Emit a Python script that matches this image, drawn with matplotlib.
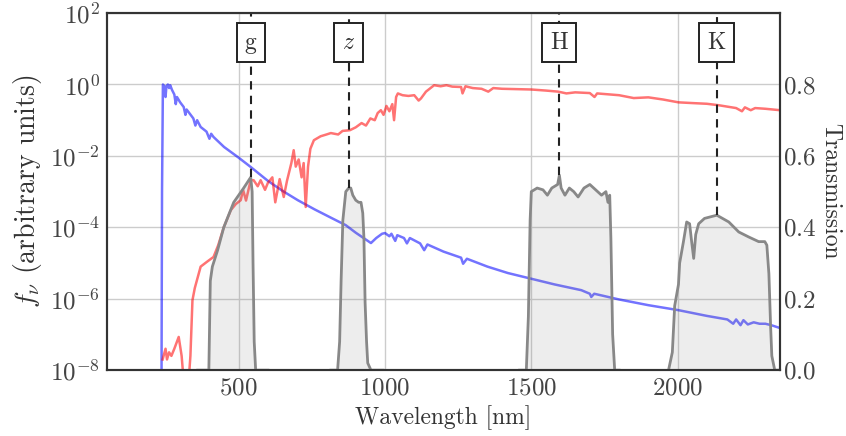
import numpy as np
import matplotlib
matplotlib.use("Agg")
import matplotlib.pyplot as plt

plt.rcParams.update({
    "font.family": "serif",
    "font.serif": ["cmr10"],
    "mathtext.fontset": "cm",
    "axes.formatter.use_mathtext": True,
})

# hot star spectrum (wavelength nm, log10 f_nu)
hot_wl = [236, 238, 241, 246, 250, 253, 258, 262, 266, 272, 280, 285, 289, 300,
          312, 318, 322, 345, 352, 358, 370, 390, 400, 406, 414, 450, 500, 541,
          600, 650, 702, 760, 820, 866, 900, 952, 970, 990, 1000, 1015, 1022,
          1035, 1042, 1065, 1075, 1085, 1120, 1134, 1145, 1200, 1260, 1267, 1280,
          1350, 1420, 1490, 1580, 1671, 1700, 1705, 1715, 1800, 1900, 2003, 2100,
          2170, 2190, 2200, 2215, 2225, 2240, 2260, 2280, 2300, 2320, 2350]
hot_logf = [-9.0, -3.0, 0.0, -0.05, -0.35, -0.05, 0.0, -0.1, -0.02, -0.15, -0.28,
            -0.55, -0.35, -0.5, -0.63, -0.85, -0.7, -0.95, -1.15, -1.0, -1.19,
            -1.32, -1.52, -1.38, -1.47, -1.75, -2.05, -2.31, -2.7, -2.98, -3.24,
            -3.5, -3.75, -3.94, -4.15, -4.44, -4.3, -4.18, -4.16, -4.25, -4.18,
            -4.38, -4.22, -4.3, -4.45, -4.3, -4.45, -4.64, -4.48, -4.68, -4.85,
            -5.02, -4.88, -5.1, -5.28, -5.42, -5.6, -5.76, -5.86, -5.95, -5.86,
            -6.02, -6.18, -6.32, -6.48, -6.58, -6.7, -6.58, -6.74, -6.6, -6.72,
            -6.66, -6.7, -6.7, -6.74, -6.82]

# cool star spectrum
cool_wl = [240, 250, 255, 262, 270, 280, 295, 305, 312, 329, 335, 342, 350, 370,
           394, 414, 430, 449, 473, 490, 507, 515, 525, 541, 551, 565, 575, 590,
           600, 615, 625, 640, 654, 665, 680, 688, 695, 705, 715, 722, 729, 737,
           745, 757, 780, 800, 815, 840, 855, 880, 900, 920, 935, 950, 965, 975,
           986, 995, 1005, 1015, 1025, 1031, 1038, 1044, 1060, 1080, 1100, 1115,
           1123, 1140, 1168, 1190, 1210, 1230, 1260, 1265, 1275, 1300, 1330, 1353,
           1370, 1400, 1450, 1500, 1550, 1592, 1620, 1650, 1700, 1716, 1725, 1800,
           1850, 1900, 1950, 2003, 2050, 2100, 2140, 2200, 2220, 2230, 2250, 2265,
           2300, 2350]
cool_logf = [-7.7, -7.4, -7.7, -7.5, -7.6, -7.4, -7.07, -7.6, -8.3, -8.3, -7.6,
             -6.04, -5.7, -5.1, -4.95, -4.83, -4.5, -4.0, -3.52, -3.35, -3.24,
             -2.95, -3.25, -2.68, -2.68, -2.85, -2.68, -2.95, -2.75, -2.6, -3.3,
             -2.65, -3.15, -2.7, -2.2, -1.84, -2.3, -2.1, -2.6, -2.2, -3.43, -2.3,
             -1.8, -1.56, -1.45, -1.4, -1.36, -1.4, -1.3, -1.28, -1.2, -1.08,
             -1.15, -0.95, -1.0, -0.8, -0.72, -0.85, -0.6, -0.75, -0.55, -1.0,
             -0.35, -0.25, -0.3, -0.32, -0.3, -0.45, -0.39, -0.2, -0.02, -0.05,
             -0.02, -0.06, -0.07, -0.25, -0.05, -0.1, -0.12, -0.2, -0.1, -0.12,
             -0.13, -0.14, -0.17, -0.2, -0.25, -0.22, -0.24, -0.35, -0.25, -0.3,
             -0.38, -0.36, -0.42, -0.5, -0.52, -0.54, -0.58, -0.66, -0.75, -0.64,
             -0.72, -0.66, -0.68, -0.72]

# filter transmission curves
g_wl = [360, 398, 400, 403, 410, 428, 449, 483, 517, 541, 546, 549, 553, 558, 600]
g_tr = [0.0, 0.0, 0.1, 0.25, 0.29, 0.336, 0.40, 0.47, 0.51, 0.54, 0.50, 0.3, 0.08, 0.0, 0.0]
z_wl = [815, 838, 845, 850, 856, 866, 876, 883, 890, 900, 910, 918, 924, 928, 932, 937, 941, 952, 993]
z_tr = [0.0, 0.0, 0.08, 0.25, 0.42, 0.50, 0.51, 0.51, 0.49, 0.476, 0.47, 0.47, 0.44, 0.37, 0.19, 0.08, 0.02, 0.0, 0.0]
H_wl = [1460, 1483, 1490, 1496, 1500, 1520, 1540, 1555, 1570, 1590, 1596, 1602, 1615,
        1630, 1645, 1660, 1680, 1700, 1720, 1740, 1755, 1762, 1768, 1772, 1778, 1785, 1800]
H_tr = [0.0, 0.0, 0.15, 0.42, 0.50, 0.51, 0.505, 0.49, 0.51, 0.52, 0.546, 0.51, 0.49,
        0.51, 0.50, 0.485, 0.51, 0.52, 0.505, 0.49, 0.50, 0.47, 0.49, 0.37, 0.1, 0.0, 0.0]
K_wl = [1969, 1982, 1990, 2003, 2007, 2020, 2031, 2041, 2048, 2055, 2062, 2072, 2092,
        2134, 2175, 2209, 2243, 2277, 2298, 2305, 2312, 2318, 2322, 2332, 2350]
K_tr = [0.0, 0.05, 0.18, 0.24, 0.30, 0.36, 0.415, 0.41, 0.36, 0.313, 0.38, 0.41, 0.425,
        0.434, 0.415, 0.387, 0.373, 0.36, 0.36, 0.35, 0.27, 0.12, 0.04, 0.0, 0.0]

filters = [("g", g_wl, g_tr), ("$z$", z_wl, z_tr), ("H", H_wl, H_tr), ("K", K_wl, K_tr)]

fig, ax = plt.subplots(figsize=(8.46, 4.36), dpi=100)
fig.subplots_adjust(left=0.1265, right=0.922, top=0.970, bottom=0.151)

ax.plot(hot_wl, 10.0 ** np.array(hot_logf), color="blue", alpha=0.55, lw=1.8)
ax.plot(cool_wl, 10.0 ** np.array(cool_logf), color="red", alpha=0.55, lw=1.8)
ax.set_yscale("log")
ax.set_ylim(1e-8, 1e2)
ax.set_xlim(50, 2350)
ax.set_yticks([1e-8, 1e-6, 1e-4, 1e-2, 1e0, 1e2])
ax.minorticks_off()
ax.set_xticks([500, 1000, 1500, 2000])
ax.grid(True, color="#cccccc", lw=1.0)
ax.set_axisbelow(True)
ax.set_xlabel("Wavelength [nm]", fontsize=17, color="#333333")
ax.set_ylabel(r"$f_\nu$ (arbitrary units)", fontsize=20, color="#333333", labelpad=4)

ax2 = ax.twinx()
for name, wl, tr in filters:
    ax2.fill_between(wl, tr, 0, color="gray", alpha=0.14, lw=0)
    ax2.plot(wl, tr, color="#888888", lw=2)
    i = int(np.argmax(tr))
    ax2.plot([wl[i], wl[i]], [tr[i], 1.0], ls="--", color="#222222", lw=1.5,
             dashes=(4, 3))
    ax2.text(wl[i], 0.917, name, ha="center", va="center", fontsize=17,
             color="#333333",
             bbox=dict(boxstyle="square,pad=0.35", fc="white", ec="#222222", lw=1.4))
ax2.set_ylim(0, 1.0)
ax2.set_yticks([0.0, 0.2, 0.4, 0.6, 0.8])
ax2.set_ylabel("Transmission", fontsize=17, color="#333333", rotation=270,
               va="bottom", labelpad=2)

for a in (ax, ax2):
    a.tick_params(length=0, labelsize=18, labelcolor="#444444", pad=5)
    for s in a.spines.values():
        s.set_color("#333333")
        s.set_linewidth(1.5)
ax2.tick_params(pad=2)

fig.savefig("out.png", dpi=100)
